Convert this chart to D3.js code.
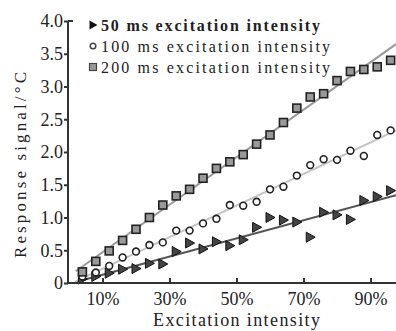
<!DOCTYPE html>
<html lang="en">
<head>
<meta charset="UTF-8">
<title>Response signal vs excitation intensity</title>
<script src="https://d3js.org/d3.v7.min.js"></script>
<style>
  body { margin: 0; background: #fff; }
  .axis path, .axis line { stroke: #333; stroke-width: 2; }
</style>
</head>
<body>
<svg id="chart" width="396" height="331"></svg>
<script>
// excitation intensity (%)
const intensity = [4, 8, 12, 16, 20, 24, 28, 32, 36, 40, 44, 48, 52, 56, 60, 64, 68, 72, 76, 80, 84, 88, 92, 96];
// response signal (°C)
const ms50 = [0.06, 0.10, 0.15, 0.21, 0.22, 0.30, 0.29, 0.48, 0.61, 0.52, 0.63, 0.57, 0.66, 0.85, 1.00, 0.96, 0.93, 0.70, 1.08, 1.04, 0.97, 1.26, 1.32, 1.41];
const ms100 = [0.10, 0.16, 0.26, 0.39, 0.48, 0.58, 0.62, 0.80, 0.80, 0.91, 0.98, 1.19, 1.18, 1.24, 1.43, 1.47, 1.64, 1.80, 1.89, 1.88, 2.02, 1.94, 2.26, 2.33];
const ms200 = [0.17, 0.33, 0.49, 0.65, 0.82, 1.00, 1.19, 1.33, 1.43, 1.60, 1.75, 1.85, 1.96, 2.12, 2.26, 2.45, 2.67, 2.84, 2.89, 3.09, 3.23, 3.26, 3.30, 3.40];
const xTicks = [10, 30, 50, 70, 90];
const yTicks = [0, 0.5, 1, 1.5, 2, 2.5, 3, 3.5, 4];
const legendLabels = ["50 ms excitation intensity", "100 ms excitation intensity", "200 ms excitation intensity"];

const FONT = "'Liberation Serif', 'Times New Roman', serif";
const svg = d3.select("#chart");
const x = d3.scaleLinear().domain([0, 97.6]).range([69, 396]);
const y = d3.scaleLinear().domain([0, 4]).range([283, 21]);

// fitted lines (least squares on each series)
function fit(vals) {
  const mx = d3.mean(intensity), my = d3.mean(vals);
  const b = d3.sum(intensity, (d, i) => (d - mx) * (vals[i] - my)) / d3.sum(intensity, d => (d - mx) * (d - mx));
  return t => my + b * (t - mx);
}
const series = [
  { vals: ms50, line: "#555", shape: "tri" },
  { vals: ms100, line: "#c4c4c4", shape: "circ" },
  { vals: ms200, line: "#9a9a9a", shape: "sq" }
];
const lineX = [2, 97.6];
series.forEach(s => {
  const f = fit(s.vals);
  svg.append("path")
    .datum(lineX)
    .attr("fill", "none")
    .attr("stroke", s.line)
    .attr("stroke-width", 2)
    .attr("d", d3.line().x(d => x(d)).y(d => y(f(d))));
});

// markers
function drawMarker(g, shape) {
  if (shape === "tri") {
    g.append("path").attr("d", "M-4,-5L5,0L-4,5Z")
      .attr("fill", "#444").attr("stroke", "#111").attr("stroke-width", 1);
  } else if (shape === "circ") {
    g.append("circle").attr("r", 3.4)
      .attr("fill", "#fff").attr("stroke", "#222").attr("stroke-width", 1.6);
  } else {
    g.append("rect").attr("x", -4).attr("y", -4).attr("width", 8).attr("height", 8)
      .attr("fill", "#999").attr("stroke", "#222").attr("stroke-width", 1.6);
  }
}
series.forEach(s => {
  svg.append("g").selectAll("g")
    .data(s.vals)
    .enter().append("g")
    .attr("transform", (d, i) => `translate(${x(intensity[i])},${y(d)})`)
    .each(function() { drawMarker(d3.select(this), s.shape); });
});

// axes
const xAxis = svg.append("g")
  .attr("class", "axis")
  .attr("transform", `translate(0,${y(0)})`)
  .call(d3.axisBottom(x).tickValues(xTicks).tickFormat(d => d + "%").tickSizeInner(-5).tickSizeOuter(0).tickPadding(7));
xAxis.select(".domain").attr("d", `M68,0H396`);
xAxis.selectAll("text").attr("dy", "0.85em")
  .style("font-family", FONT).style("font-size", "18px").attr("fill", "#222");

const yAxis = svg.append("g")
  .attr("class", "axis")
  .attr("transform", `translate(68,0)`)
  .call(d3.axisLeft(y).tickValues(yTicks).tickFormat(d => d === 0 ? "0" : d3.format(".1f")(d)).tickSize(4).tickSizeOuter(0).tickPadding(1));
yAxis.select(".domain").attr("d", `M0,${y(4)}V${y(0) + 1}`);
yAxis.selectAll("text")
  .style("font-family", FONT).style("font-size", "18px").attr("fill", "#222");
yAxis.append("line").attr("x1", 0).attr("x2", 5).attr("y1", y(4)).attr("y2", y(4));

// titles
svg.append("text")
  .attr("x", 153).attr("y", 326)
  .attr("textLength", 167).attr("lengthAdjust", "spacing")
  .style("font-family", FONT).style("font-size", "18px").attr("fill", "#222")
  .text("Excitation intensity");
svg.append("text")
  .attr("transform", "translate(26,258) rotate(-90)")
  .attr("textLength", 186).attr("lengthAdjust", "spacing")
  .style("font-family", FONT).style("font-size", "17px").attr("fill", "#222")
  .text("Response signal/°C");

// legend
const legendWidths = [219, 229, 229];
const legend = svg.append("g");
legendLabels.forEach((lab, i) => {
  const row = legend.append("g").attr("transform", `translate(93,${25 + i * 21})`);
  const m = row.append("g");
  if (i === 0) {
    m.append("path").attr("d", "M-3.5,-4.5L4.5,0L-3.5,4.5Z").attr("fill", "#111");
  } else if (i === 1) {
    m.append("circle").attr("r", 2.8).attr("fill", "#fff").attr("stroke", "#444").attr("stroke-width", 1.5);
  } else {
    m.append("rect").attr("x", -3.5).attr("y", -3.5).attr("width", 7).attr("height", 7)
      .attr("fill", "#999").attr("stroke", "#444").attr("stroke-width", 1.2);
  }
  row.append("text")
    .attr("x", 8).attr("y", 5.5)
    .attr("textLength", legendWidths[i]).attr("lengthAdjust", "spacing")
    .style("font-family", FONT).style("font-size", "16px").attr("fill", "#222")
    .style("font-weight", i === 0 ? "bold" : "normal")
    .text(lab);
});
</script>
</body>
</html>
